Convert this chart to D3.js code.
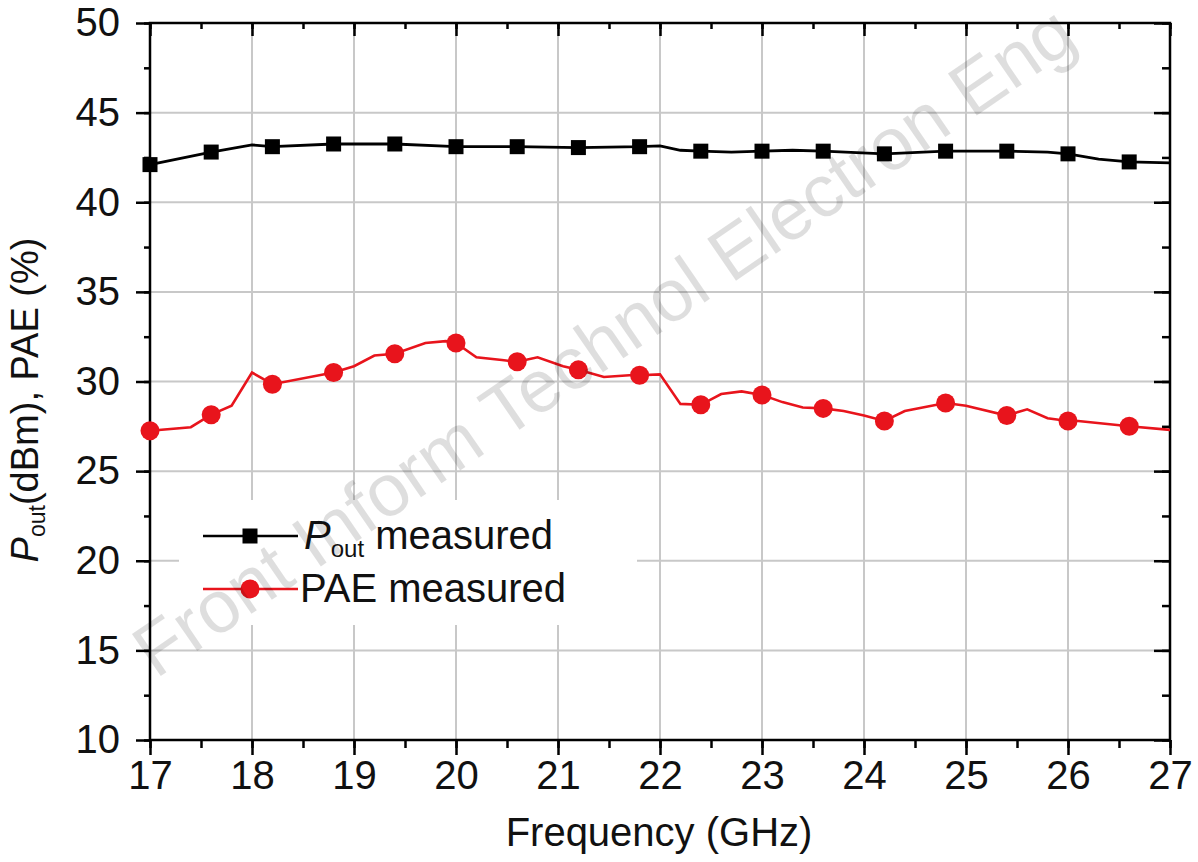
<!DOCTYPE html>
<html>
<head>
<meta charset="utf-8">
<script src="https://d3js.org/d3.v7.min.js"></script>
<style>
  body { margin: 0; background: #fff; }
  text { font-family: "Liberation Sans", Arial, sans-serif; }
  .grid line { stroke: #c8c8c8; stroke-width: 2px; }
</style>
</head>
<body>
<div id="chart"></div>
<script>
// Pout curve (dBm)
var poutFreq = [17, 17.6, 18.0, 18.2, 18.8, 19.0, 19.4, 20.0, 20.6, 21.2, 21.8, 22.0, 22.2, 22.4, 22.7, 23.0, 23.3, 23.6, 24.2, 24.8, 25.4, 25.8, 26.0, 26.3, 26.6, 27.0];
var poutVals = [42.1, 42.8, 43.2, 43.1, 43.25, 43.25, 43.25, 43.1, 43.1, 43.05, 43.1, 43.15, 42.9, 42.85, 42.8, 42.85, 42.9, 42.85, 42.7, 42.85, 42.85, 42.8, 42.7, 42.4, 42.25, 42.2];

// PAE curve (%)
var paeFreq = [17, 17.4, 17.6, 17.8, 18.0, 18.2, 18.8, 19.0, 19.2, 19.4, 19.7, 19.9, 20.0, 20.2, 20.45, 20.6, 20.8, 21.05, 21.2, 21.45, 21.7, 21.8, 22.0, 22.2, 22.4, 22.6, 22.8, 23.0, 23.2, 23.4, 23.6, 23.8, 24.0, 24.2, 24.4, 24.8, 25.0, 25.4, 25.6, 25.8, 26.0, 26.1, 26.6, 27.0];
var paeVals = [27.25, 27.45, 28.15, 28.65, 30.5, 29.85, 30.5, 30.85, 31.45, 31.55, 32.15, 32.25, 32.15, 31.35, 31.2, 31.1, 31.35, 30.85, 30.65, 30.25, 30.35, 30.35, 30.4, 28.75, 28.7, 29.3, 29.45, 29.25, 28.85, 28.55, 28.5, 28.35, 28.1, 27.8, 28.35, 28.8, 28.65, 28.1, 28.45, 27.95, 27.8, 27.8, 27.5, 27.3];

// marker positions
var markerFreq = [17, 17.6, 18.2, 18.8, 19.4, 20.0, 20.6, 21.2, 21.8, 22.4, 23.0, 23.6, 24.2, 24.8, 25.4, 26.0, 26.6];
var poutMarkerVals = [42.1, 42.8, 43.1, 43.25, 43.25, 43.1, 43.1, 43.05, 43.1, 42.85, 42.85, 42.85, 42.7, 42.85, 42.85, 42.7, 42.25];
var paeMarkerVals = [27.25, 28.15, 29.85, 30.5, 31.55, 32.15, 31.1, 30.65, 30.35, 28.7, 29.25, 28.5, 27.8, 28.8, 28.1, 27.8, 27.5];

var xTicks = [17, 18, 19, 20, 21, 22, 23, 24, 25, 26, 27];
var yTicks = [10, 15, 20, 25, 30, 35, 40, 45, 50];
var xMinor = d3.range(17, 27.01, 0.5);
var yMinor = d3.range(10, 50.01, 2.5);

var width = 1198, height = 862;
var pLeft = 150, pRight = 1170, pTop = 23, pBottom = 740;

var svg = d3.select("#chart").append("svg")
    .attr("width", width)
    .attr("height", height);

var x = d3.scaleLinear().domain([17, 27]).range([pLeft, pRight]);
var y = d3.scaleLinear().domain([10, 50]).range([pBottom, pTop]);

// grid
var grid = svg.append("g").attr("class", "grid");
grid.selectAll(".gx").data(xTicks.slice(1, -1)).enter().append("line")
    .attr("x1", d => x(d)).attr("x2", d => x(d))
    .attr("y1", pTop).attr("y2", pBottom);
grid.selectAll(".gy").data(yTicks.slice(1, -1)).enter().append("line")
    .attr("x1", pLeft).attr("x2", pRight)
    .attr("y1", d => y(d)).attr("y2", d => y(d));

// axes
function tickAxis(axis, ticks, size) {
    return axis.tickValues(ticks).tickSize(size).tickFormat("");
}
var axStyle = function(g) {
    g.selectAll("line").attr("stroke", "#000").attr("stroke-width", 2.5);
    g.select(".domain").remove();
};
svg.append("g").attr("transform", "translate(0," + pBottom + ")")
    .call(tickAxis(d3.axisBottom(x), xMinor, 8)).call(axStyle);
svg.append("g").attr("transform", "translate(0," + pBottom + ")")
    .call(d3.axisBottom(x).tickValues(xTicks).tickSize(15).tickPadding(6).tickFormat(d3.format("d")))
    .call(axStyle)
    .selectAll("text").attr("font-size", 40).attr("fill", "#111").attr("font-family", "Liberation Sans, Arial, sans-serif");
svg.append("g").attr("transform", "translate(0," + pTop + ")")
    .call(tickAxis(d3.axisBottom(x), xMinor, 6)).call(axStyle);
svg.append("g").attr("transform", "translate(0," + pTop + ")")
    .call(tickAxis(d3.axisBottom(x), xTicks, 13)).call(axStyle);

svg.append("g").attr("transform", "translate(" + pLeft + ",0)")
    .call(tickAxis(d3.axisLeft(y), yMinor, 6)).call(axStyle);
svg.append("g").attr("transform", "translate(" + pLeft + ",0)")
    .call(d3.axisLeft(y).tickValues(yTicks).tickSize(14).tickPadding(16).tickFormat(d3.format("d")))
    .call(axStyle)
    .selectAll("text").attr("font-size", 40).attr("fill", "#111").attr("font-family", "Liberation Sans, Arial, sans-serif");
svg.append("g").attr("transform", "translate(" + pRight + ",0)")
    .call(tickAxis(d3.axisLeft(y), yMinor, 8)).call(axStyle);
svg.append("g").attr("transform", "translate(" + pRight + ",0)")
    .call(tickAxis(d3.axisLeft(y), yTicks, 16)).call(axStyle);

// frame
svg.append("rect")
    .attr("x", pLeft).attr("y", pTop)
    .attr("width", pRight - pLeft).attr("height", pBottom - pTop)
    .attr("fill", "none").attr("stroke", "#000").attr("stroke-width", 2.5);

// legend background covers the grid
svg.append("rect")
    .attr("x", 179).attr("y", 500).attr("width", 458).attr("height", 125)
    .attr("fill", "#fff");

// lines
var line = d3.line().x(d => x(d[0])).y(d => y(d[1]));
svg.append("path")
    .datum(d3.zip(poutFreq, poutVals))
    .attr("d", line)
    .attr("fill", "none").attr("stroke", "#000").attr("stroke-width", 2.8);
svg.append("path")
    .datum(d3.zip(paeFreq, paeVals))
    .attr("d", line)
    .attr("fill", "none").attr("stroke", "#e8141c").attr("stroke-width", 2.6);

// markers
var sq = 15;
svg.append("g").selectAll("rect").data(d3.zip(markerFreq, poutMarkerVals)).enter().append("rect")
    .attr("x", d => x(d[0]) - sq / 2).attr("y", d => y(d[1]) - sq / 2)
    .attr("width", sq).attr("height", sq).attr("fill", "#000");
svg.append("g").selectAll("circle").data(d3.zip(markerFreq, paeMarkerVals)).enter().append("circle")
    .attr("cx", d => x(d[0])).attr("cy", d => y(d[1]))
    .attr("r", 9.5).attr("fill", "#e8141c");

// legend
var lg = svg.append("g");
lg.append("line").attr("x1", 203).attr("x2", 298).attr("y1", 536).attr("y2", 536)
    .attr("stroke", "#000").attr("stroke-width", 2.5);
lg.append("rect").attr("x", 250 - sq / 2).attr("y", 536 - sq / 2).attr("width", sq).attr("height", sq).attr("fill", "#000");
lg.append("line").attr("x1", 203).attr("x2", 298).attr("y1", 589).attr("y2", 589)
    .attr("stroke", "#e8141c").attr("stroke-width", 2.5);
lg.append("circle").attr("cx", 250).attr("cy", 589).attr("r", 9.5).attr("fill", "#e8141c");

var t1 = lg.append("text").attr("x", 304).attr("y", 549).attr("font-size", 40).attr("fill", "#111");
t1.append("tspan").attr("font-style", "italic").text("P");
t1.append("tspan").attr("font-size", 24).attr("dy", 8).text("out");
t1.append("tspan").attr("dy", -8).text(" measured");
lg.append("text").attr("x", 300).attr("y", 602).attr("font-size", 40).attr("fill", "#111")
    .text("PAE measured");

// axis titles
svg.append("text")
    .attr("x", (pLeft + pRight) / 2 - 1).attr("y", 846)
    .attr("text-anchor", "middle").attr("font-size", 40).attr("fill", "#111")
    .text("Frequency (GHz)");

var yl = svg.append("text")
    .attr("transform", "translate(38,400) rotate(-90)")
    .attr("text-anchor", "middle").attr("font-size", 38).attr("fill", "#111");
yl.append("tspan").attr("font-style", "italic").text("P");
yl.append("tspan").attr("font-size", 23).attr("dy", 7).text("out");
yl.append("tspan").attr("dy", -7).text("(dBm), PAE (%)");

// watermark
svg.append("text")
    .attr("transform", "translate(618,362) rotate(-34.5)")
    .attr("text-anchor", "middle").attr("font-size", 74)
    .attr("fill", "#000").attr("fill-opacity", 0.13)
    .text("Front Inform Technol Electron Eng");
</script>
</body>
</html>
